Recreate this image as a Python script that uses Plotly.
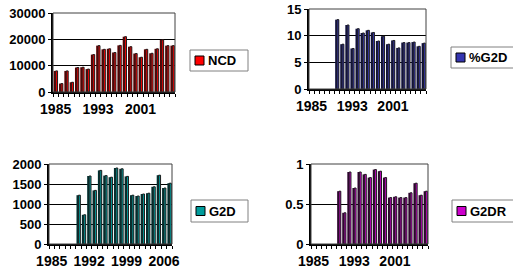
import plotly.graph_objects as go

years = list(range(1985, 2008))

ncd = [8000, 3200, 8000, 3700, 9300, 9400, 8700, 14200, 17600, 16200, 16400, 15000,
       17700, 21000, 17200, 14600, 13200, 16200, 14700, 16400, 19800, 17600, 17600]
pct_g2d = [None, None, None, None, None, 13.0, 8.4, 12.0, 7.6, 11.3, 10.5, 11.0,
           10.6, 9.0, 9.9, 8.4, 9.1, 7.7, 8.7, 8.7, 8.8, 8.0, 8.6]
g2d = [None, None, None, None, None, 1220, 730, 1700, 1340, 1840, 1710, 1670,
       1900, 1880, 1690, 1220, 1200, 1250, 1270, 1430, 1720, 1400, 1520]
g2dr = [None, None, None, None, None, 0.66, 0.39, 0.90, 0.70, 0.90, 0.87, 0.83,
        0.93, 0.91, 0.83, 0.58, 0.59, 0.58, 0.58, 0.64, 0.76, 0.61, 0.66]

ticks_a = [1985, 1993, 2001]
ticks_b = [1985, 1992, 1999, 2006]

W, H = 513, 271
def px(x): return x / W
def py(y): return 1 - y / H

panels = [
    dict(name="NCD", y=ncd, face="#FF0000", side="#5a0000", rng=[0, 30000], dt=10000,
         xd=[px(53), px(175)], yd=[py(92), py(13)], ticks=ticks_a,
         box=(190, 50, 248, 71)),
    dict(name="%G2D", y=pct_g2d, face="#3535B0", side="#101040", rng=[0, 15], dt=5,
         xd=[px(309), px(426)], yd=[py(89), py(9)], ticks=ticks_a,
         box=(451, 47, 520, 68)),
    dict(name="G2D", y=g2d, face="#009C9C", side="#003030", rng=[0, 2000], dt=500,
         xd=[px(49), px(172)], yd=[py(244), py(164)], ticks=ticks_b,
         box=(191, 200, 248, 222)),
    dict(name="G2DR", y=g2dr, face="#CC00CC", side="#300030", rng=[0, 1], dt=0.5,
         xd=[px(311), px(428)], yd=[py(244), py(164)], ticks=ticks_a,
         box=(452, 200, 520, 222)),
]

fig = go.Figure()
font = dict(family="Liberation Sans, Arial, sans-serif", size=13, color="black", weight="bold")
xfont = dict(family="Liberation Sans, Arial, sans-serif", size=14, color="black", weight="bold")

for i, p in enumerate(panels):
    n = "" if i == 0 else str(i + 1)
    xa, ya = "x" + n, "y" + n
    fig.add_trace(go.Bar(x=years, y=p["y"], xaxis=xa, yaxis=ya, width=0.72, offset=-0.36,
                         marker=dict(color=p["side"], line=dict(width=0)),
                         showlegend=False, hoverinfo="skip"))
    fig.add_trace(go.Bar(x=years, y=p["y"], xaxis=xa, yaxis=ya, width=0.36, offset=0.0,
                         name=p["name"], showlegend=False,
                         marker=dict(color=p["face"], line=dict(width=1, color="#202020"))))
    fig.layout["xaxis" + n] = dict(
        domain=p["xd"], anchor=ya, range=[1984.5, 2007.5], automargin=False,
        tickmode="array", tickvals=p["ticks"], ticktext=[str(t) for t in p["ticks"]],
        ticks="", showgrid=False, showline=True, linecolor="black", linewidth=2,
        mirror=False, tickfont=xfont, ticklabelstandoff=3, ticklabeloverflow="allow",
        minor=dict(tickmode="linear", tick0=1984.5, dtick=1, ticks="outside",
                   ticklen=3, tickcolor="black", tickwidth=1, showgrid=False),
    )
    fig.layout["yaxis" + n] = dict(
        domain=p["yd"], anchor=xa, range=p["rng"], dtick=p["dt"], automargin=False,
        tickformat="~g" if p["dt"] < 1 else "d", ticklabeloverflow="allow",
        showgrid=True, gridcolor="black", gridwidth=1,
        showline=True, linecolor="black", linewidth=2, mirror=False,
        ticks="outside", ticklen=3, tickcolor="black", tickfont=font,
        zeroline=False,
    )
    fig.add_shape(type="rect", xref=xa + " domain", yref=ya + " domain",
                  x0=0, x1=1, y0=0, y1=1, line=dict(color="#404040", width=1), layer="above")
    x0, y0, x1, y1 = p["box"]
    fig.add_shape(type="rect", xref="paper", yref="paper", x0=px(x0), x1=px(x1),
                  y0=py(y1), y1=py(y0), line=dict(color="#808080", width=1),
                  fillcolor="white", layer="above")
    ym = (y0 + y1) / 2
    fig.add_shape(type="rect", xref="paper", yref="paper", x0=px(x0 + 5), x1=px(x0 + 14),
                  y0=py(ym + 4.5), y1=py(ym - 4.5), line=dict(color="black", width=1),
                  fillcolor=p["face"], layer="above")
    fig.add_annotation(xref="paper", yref="paper", x=px(x0 + 16), y=py(ym), xanchor="left",
                       yanchor="middle", text="<b>" + p["name"] + "</b>", showarrow=False,
                       font=dict(family="Liberation Sans, Arial, sans-serif", size=13, color="black"))

fig.update_layout(
    width=W, height=H, margin=dict(l=0, r=0, t=0, b=0, autoexpand=False),
    paper_bgcolor="white", plot_bgcolor="white", barmode="overlay",
    font=font, showlegend=False,
)
fig.write_html("out.html", config={"displayModeBar": False},
               post_script="document.body.style.margin='0';")
